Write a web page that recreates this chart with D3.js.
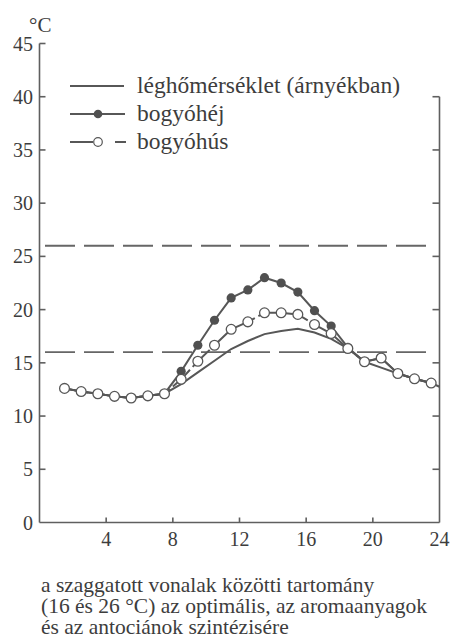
<!DOCTYPE html>
<html>
<head>
<meta charset="utf-8">
<script src="https://cdn.jsdelivr.net/npm/d3@7"></script>
<style>
  html, body { margin: 0; padding: 0; background: #fff; }
  svg { display: block; }
  text { font-family: "Liberation Serif", "Times New Roman", serif; fill: #3d3d3d; }
</style>
</head>
<body>
<svg id="chart" width="454" height="639"></svg>
<script>
// Hours of the day at which the berry temperatures were measured
const hours = [1.5, 2.5, 3.5, 4.5, 5.5, 6.5, 7.5, 8.5, 9.5, 10.5, 11.5, 12.5,
               13.5, 14.5, 15.5, 16.5, 17.5, 18.5, 19.5, 20.5, 21.5, 22.5, 23.5];
// Berry flesh temperature (°C)
const flesh = [12.6, 12.3, 12.1, 11.85, 11.7, 11.9, 12.1, 13.45, 15.15, 16.65, 18.15, 18.85,
               19.7, 19.7, 19.55, 18.6, 17.75, 16.35, 15.1, 15.45, 14.0, 13.5, 13.1];
// Berry skin temperature (°C)
const skin = [12.6, 12.3, 12.1, 11.85, 11.7, 11.9, 12.1, 14.2, 16.65, 19.0, 21.1, 21.85,
              23.0, 22.5, 21.65, 19.9, 18.45, 16.45, 15.1, 15.45, 14.0, 13.5, 13.1];
// Air temperature in the shade (°C)
const airHours = [1.5, 2.5, 3.5, 4.5, 5.5, 6.5, 7.5, 8.5, 9.5, 10.5, 11.5, 12.5,
                  13.5, 14.5, 15.5, 16.5, 17.5, 18.5, 19.5, 20.5, 21.5, 22.5, 23.5, 24];
const air = [12.6, 12.3, 12.1, 11.85, 11.7, 11.9, 12.1, 13.0, 14.1, 15.2, 16.3, 17.05,
             17.7, 18.0, 18.2, 17.85, 17.25, 16.35, 15.1, 14.55, 14.0, 13.5, 13.1, 12.75];
// Optimum band limits (°C)
const optimum = [16, 26];
const yTicks = [5, 10, 15, 20, 25, 30, 35, 40, 45];
const yLabels = [0, 5, 10, 15, 20, 25, 30, 35, 40, 45];
const xTicks = [4, 8, 12, 16, 20];
const xLabels = [4, 8, 12, 16, 20, 24];
const legendItems = ["léghőmérséklet (árnyékban)", "bogyóhéj", "bogyóhús"];
const captionLines = [
  "a szaggatott vonalak közötti tartomány",
  "(16 és 26 °C) az optimális, az aromaanyagok",
  "és az antociánok szintézisére"
];

const svg = d3.select("#chart");
const ink = "#575757";
const x = d3.scaleLinear().domain([0, 24]).range([39.5, 439.5]);
const y = d3.scaleLinear().domain([0, 45]).range([522.5, 43.5]);

// Frame: left axis up to 45, right axis up to 40, bottom axis
const frame = svg.append("g").attr("stroke", "#5f5f5f").attr("stroke-width", 1.6).attr("fill", "none");
frame.append("line").attr("x1", x(0)).attr("x2", x(0)).attr("y1", y(45)).attr("y2", y(0));
frame.append("line").attr("x1", x(24)).attr("x2", x(24)).attr("y1", y(40)).attr("y2", y(0));
frame.append("line").attr("x1", x(0)).attr("x2", x(24)).attr("y1", y(0)).attr("y2", y(0));

// Inward tick marks
frame.selectAll(".lt").data(yTicks).enter().append("line")
  .attr("x1", x(0)).attr("x2", x(0) + 6).attr("y1", d => y(d)).attr("y2", d => y(d));
frame.selectAll(".rt").data(yTicks.filter(d => d <= 40)).enter().append("line")
  .attr("x1", x(24)).attr("x2", x(24) - 7).attr("y1", d => y(d)).attr("y2", d => y(d));
frame.selectAll(".bt").data(xTicks).enter().append("line")
  .attr("x1", d => x(d)).attr("x2", d => x(d)).attr("y1", y(0)).attr("y2", y(0) - 5);

// Tick labels
svg.selectAll(".yl").data(yLabels).enter().append("text")
  .attr("x", 33).attr("y", d => y(d) + 7).attr("text-anchor", "end")
  .style("font-size", "20px").text(d => d);
svg.selectAll(".xl").data(xLabels).enter().append("text")
  .attr("x", d => x(d)).attr("y", 546).attr("text-anchor", "middle")
  .style("font-size", "20px").text(d => d);
svg.append("text").attr("x", 29).attr("y", 32).style("font-size", "21px").text("°C");

// Optimum band limits as dashed lines
svg.selectAll(".opt").data(optimum).enter().append("line")
  .attr("x1", 45).attr("x2", 432).attr("y1", d => y(d)).attr("y2", d => y(d))
  .attr("stroke", "#666").attr("stroke-width", 1.8).attr("stroke-dasharray", "30,9");

// Series
const line = d3.line().x(d => x(d[0])).y(d => y(d[1]));
const airPts = airHours.map((h, i) => [h, air[i]]);
const skinPts = hours.map((h, i) => [h, skin[i]]);
const fleshPts = hours.map((h, i) => [h, flesh[i]]);

svg.append("path").datum(airPts).attr("d", line)
  .attr("fill", "none").attr("stroke", ink).attr("stroke-width", 2);
svg.append("path").datum(skinPts).attr("d", line)
  .attr("fill", "none").attr("stroke", ink).attr("stroke-width", 2);
svg.selectAll(".skin").data(skinPts).enter().append("circle")
  .attr("cx", d => x(d[0])).attr("cy", d => y(d[1])).attr("r", 4.6)
  .attr("fill", "#505050");
svg.append("path").datum(fleshPts).attr("d", line)
  .attr("fill", "none").attr("stroke", ink).attr("stroke-width", 2)
  .attr("stroke-dasharray", "24,4");
svg.selectAll(".flesh").data(fleshPts).enter().append("circle")
  .attr("cx", d => x(d[0])).attr("cy", d => y(d[1])).attr("r", 4.9)
  .attr("fill", "#fff").attr("stroke", ink).attr("stroke-width", 1.3);

// Legend
const lg = svg.append("g");
const rowY = [86, 114, 142];
lg.selectAll("text").data(legendItems).enter().append("text")
  .attr("x", 137).attr("y", (d, i) => rowY[i] + 7)
  .style("font-size", "23.5px").text(d => d);
lg.append("line").attr("x1", 70).attr("x2", 124).attr("y1", rowY[0]).attr("y2", rowY[0])
  .attr("stroke", ink).attr("stroke-width", 2);
lg.append("line").attr("x1", 70).attr("x2", 125).attr("y1", rowY[1]).attr("y2", rowY[1])
  .attr("stroke", ink).attr("stroke-width", 2);
lg.append("circle").attr("cx", 98).attr("cy", rowY[1]).attr("r", 4.3).attr("fill", "#505050");
lg.append("line").attr("x1", 70).attr("x2", 93).attr("y1", rowY[2]).attr("y2", rowY[2])
  .attr("stroke", ink).attr("stroke-width", 2);
lg.append("line").attr("x1", 115).attr("x2", 126).attr("y1", rowY[2]).attr("y2", rowY[2])
  .attr("stroke", ink).attr("stroke-width", 2);
lg.append("circle").attr("cx", 98).attr("cy", rowY[2]).attr("r", 4.3)
  .attr("fill", "#fff").attr("stroke", ink).attr("stroke-width", 1.2);

// Caption under the chart
svg.selectAll(".cap").data(captionLines).enter().append("text")
  .attr("x", 41).attr("y", (d, i) => 592 + i * 21)
  .style("font-size", "21.5px").text(d => d);
</script>
</body>
</html>
